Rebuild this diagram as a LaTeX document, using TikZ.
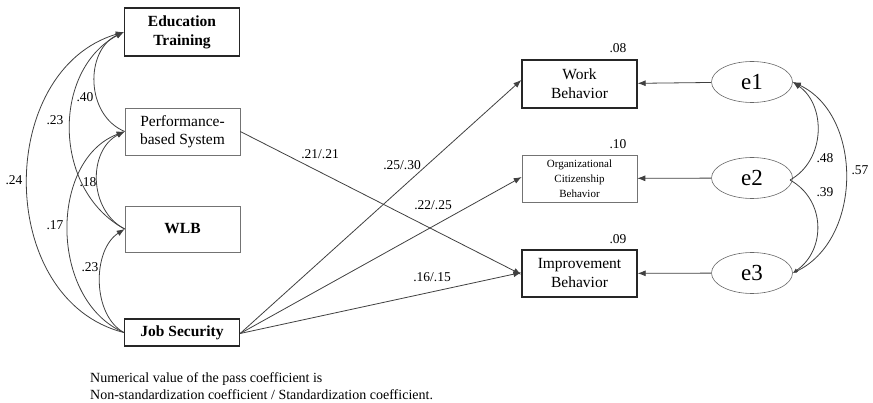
\documentclass[tikz,border=0pt]{standalone}
\usepackage{fontspec}
\setmainfont{Liberation Serif}
\usetikzlibrary{arrows.meta,shapes.geometric}
\definecolor{ln}{HTML}{404040}
\tikzset{
  x=1pt, y=-1pt,
  thickbox/.style={draw=black!85, line width=1.3pt, minimum width=115pt, inner sep=0pt, align=center, font=\fontsize{15.5}{19}\selectfont},
  thinbox/.style={draw=black!55, line width=0.6pt, minimum width=115pt, inner sep=0pt, align=center, font=\fontsize{15.5}{18.5}\selectfont},
  err/.style={draw=black!60, line width=0.6pt, ellipse, minimum width=81pt, minimum height=41pt, inner sep=0pt, font=\fontsize{23}{23}\selectfont},
  conn/.style={draw=ln, line width=0.8pt},
  arr/.style={conn, -{Latex[length=8pt,width=6pt]}},
  lab/.style={font=\fontsize{13.5}{14}\selectfont, inner sep=0pt},
}
\begin{document}
\begin{tikzpicture}
\useasboundingbox (0,0) rectangle (873,403);
% left boxes
\node[thickbox, minimum height=48pt] (et) at (182,32) {\textbf{Education}\\\textbf{Training}};
\node[thinbox, minimum height=47pt] (pbs) at (182.5,131.5) {Performance-\\based System};
\node[thinbox, minimum height=46pt] (wlb) at (182.5,229) {\textbf{WLB}};
\node[thickbox, minimum height=27pt] (js) at (182,332.5) {\textbf{Job Security}};
% right boxes
\node[thickbox, minimum height=48pt] (wb) at (579.5,84) {Work\\Behavior};
\node[thinbox, minimum height=47pt, font=\fontsize{11}{15}\selectfont] (ocb) at (579.5,178.5) {Organizational\\Citizenship\\Behavior};
\node[thickbox, minimum height=47pt] (ib) at (579.5,273.5) {Improvement\\Behavior};
% errors
\node[err] (e1) at (752,82) {e1};
\node[err] (e2) at (752,178) {e2};
\node[err] (e3) at (752,273) {e3};
% R2
\node[lab] (r1) at (618,48) {.08};
\node[lab] (r2) at (618,144) {.10};
\node[lab] (r3) at (618,239) {.09};
% error arrows
\draw[arr] (e1) -- (wb);
\draw[arr] (e2) -- (ocb);
\draw[arr] (e3) -- (ib);
% paths
\draw[arr] (pbs.east) -- ([yshift=-1pt]ib.west);
\draw[arr] ([yshift=-1pt]js.east) -- ([yshift=4pt]wb.west);
\draw[arr] ([yshift=-1pt]js.east) -- ([yshift=1.5pt]ocb.west);
\draw[arr] ([yshift=-1pt]js.east) -- ([yshift=1pt]ib.west);
\node[lab] (p1) at (320,154) {.21/.21};
\node[lab] (p2) at (402,165) {.25/.30};
\node[lab] (p3) at (433,205) {.22/.25};
\node[lab] (p4) at (432,277) {.16/.15};
% left covariances
\draw[arr] (js.west) .. controls (-5,300) and (-5,70) .. (et.west);
\draw[arr] (wlb.west) .. controls (52,190) and (52,70) .. (et.west);
\draw[arr] (pbs.west) .. controls (85,115) and (85,50) .. (et.west);
\draw[arr] (wlb.west) .. controls (88,210) and (88,150) .. (pbs.west);
\draw[arr] (js.west) .. controls (49,300) and (49,160) .. (pbs.west);
\draw[arr] (js.west) .. controls (92,315) and (92,250) .. (wlb.west);
\node[lab] (c1) at (14,180) {.24};
\node[lab] (c2) at (55,120) {.23};
\node[lab] (c3) at (85,97) {.40};
\node[lab] (c4) at (88,182) {.18};
\node[lab] (c5) at (55,225) {.17};
\node[lab] (c6) at (90,267) {.23};
% right covariances
\coordinate (e2r) at (790,180);
\draw[arr] (e2r) .. controls (826,160) and (826,105) .. (e1.east);
\draw[conn, -{Latex[length=5pt,width=4pt]}] (e2r) .. controls (826,200) and (826,250) .. (e3.east);
\draw[arr, {Latex[length=4pt,width=3pt]}-{Latex[length=8pt,width=6pt]}] (e3.east) .. controls (863,240) and (863,115) .. (e1.east);
\node[lab] (k1) at (825,158) {.48};
\node[lab] (k2) at (825,192) {.39};
\node[lab] (k3) at (860,170) {.57};
% note
\node[anchor=west, align=left, inner sep=0pt, font=\fontsize{14}{17}\selectfont] (note) at (90,386) {Numerical value of the pass coefficient is\\Non-standardization coefficient / Standardization coefficient.};
\end{tikzpicture}
\end{document}
